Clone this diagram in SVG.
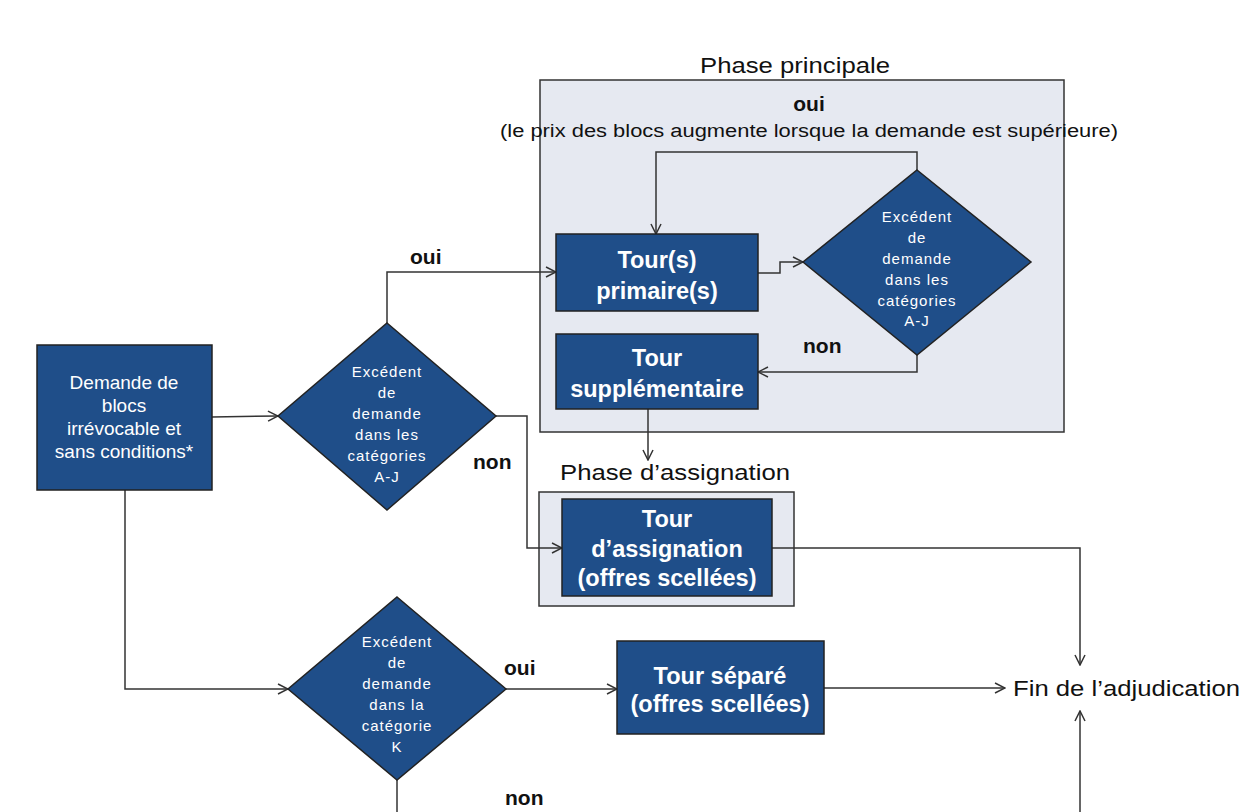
<svg xmlns="http://www.w3.org/2000/svg" width="1244" height="812" viewBox="0 0 1244 812">
<style>
.node{fill:#1f4e89;stroke:#222;stroke-width:1.5}
.phase{fill:#e6e9f1;stroke:#333;stroke-width:1.5}
.c{fill:none;stroke:#333;stroke-width:1.5}
.bt{font-family:"Liberation Sans",Arial,sans-serif;font-weight:bold;font-size:23.5px;fill:#fff;text-anchor:middle}
.dt{font-family:"Liberation Sans",Arial,sans-serif;font-size:15px;fill:#fff;text-anchor:middle;letter-spacing:1px}
.lt{font-family:"Liberation Sans",Arial,sans-serif;font-size:19px;fill:#fff;text-anchor:middle}
.lab{font-family:"Liberation Sans",Arial,sans-serif;font-weight:bold;font-size:21px;fill:#111}
.title{font-family:"Liberation Sans",Arial,sans-serif;font-size:22px;fill:#111;text-anchor:middle}
</style>
<defs>
<marker id="a" viewBox="0 0 12 12" refX="11" refY="6" markerWidth="12" markerHeight="12" markerUnits="userSpaceOnUse" orient="auto">
<path d="M1,1 L11,6 L1,11" fill="none" stroke="#333" stroke-width="1.5"/>
</marker>
</defs>
<rect width="1244" height="812" fill="#fff"/>
<g id="phase-principale">
<rect class="phase" x="540" y="80" width="524" height="352"/>
<text class="title" x="795" y="73" textLength="190" lengthAdjust="spacingAndGlyphs">Phase principale</text>
<text class="lab" x="809" y="111" text-anchor="middle" font-size="22">oui</text>
<text x="809" y="137" text-anchor="middle" textLength="618" lengthAdjust="spacingAndGlyphs" style="font-family:'Liberation Sans',Arial,sans-serif;font-size:18px;fill:#111">(le prix des blocs augmente lorsque la demande est supérieure)</text>
</g>
<g id="phase-assignation">
<rect class="phase" x="539" y="492" width="255" height="114"/>
<text class="title" x="675" y="480" textLength="230" lengthAdjust="spacingAndGlyphs">Phase d’assignation</text>
</g>
<g id="connectors">
<path class="c" d="M212,417 L278,416" marker-end="url(#a)"/>
<path class="c" d="M387,323 L387,272 L556,272" marker-end="url(#a)"/>
<path class="c" d="M496,416 L527,416 L527,548 L562,548" marker-end="url(#a)"/>
<path class="c" d="M758,273 L780,273 L780,262 L803,262" marker-end="url(#a)"/>
<path class="c" d="M917,170 L917,152 L656,152 L656,234" marker-end="url(#a)"/>
<path class="c" d="M917,355 L917,372 L758,372" marker-end="url(#a)"/>
<path class="c" d="M648,409 L648,460" marker-end="url(#a)"/>
<path class="c" d="M772,548 L1080,548 L1080,665" marker-end="url(#a)"/>
<path class="c" d="M125,490 L125,689 L288,689" marker-end="url(#a)"/>
<path class="c" d="M506,689 L617,689" marker-end="url(#a)"/>
<path class="c" d="M824,688 L1005,688" marker-end="url(#a)"/>
<path class="c" d="M397,780 L397,812"/>
<path class="c" d="M1080,812 L1080,711" marker-end="url(#a)"/>
<text class="lab" x="410" y="264">oui</text>
<text class="lab" x="473" y="469">non</text>
<text class="lab" x="803" y="353">non</text>
<text class="lab" x="504" y="675">oui</text>
<text class="lab" x="505" y="805">non</text>
</g>
<g id="demande">
<rect class="node" x="37" y="345" width="175" height="145"/>
<text class="lt" x="124" y="389">Demande  de</text>
<text class="lt" x="124" y="412">blocs</text>
<text class="lt" x="124" y="435">irrévocable et</text>
<text class="lt" x="124" y="458">sans conditions*</text>
</g>
<g id="diamond-aj">
<polygon class="node" points="387,323 496,416 387,510 278,416"/>
<text class="dt" x="387" y="377">Excédent</text>
<text class="dt" x="387" y="398">de</text>
<text class="dt" x="387" y="419">demande</text>
<text class="dt" x="387" y="440">dans les</text>
<text class="dt" x="387" y="461">catégories</text>
<text class="dt" x="387" y="482">A-J</text>
</g>
<g id="tour-primaire">
<rect class="node" x="556" y="234" width="202" height="77"/>
<text class="bt" x="657" y="268">Tour(s)</text>
<text class="bt" x="657" y="299">primaire(s)</text>
</g>
<g id="diamond-aj-2">
<polygon class="node" points="917,170 1031,262 917,355 803,262"/>
<text class="dt" x="917" y="222">Excédent</text>
<text class="dt" x="917" y="243">de</text>
<text class="dt" x="917" y="264">demande</text>
<text class="dt" x="917" y="285">dans les</text>
<text class="dt" x="917" y="306">catégories</text>
<text class="dt" x="917" y="326">A-J</text>
</g>
<g id="tour-supplementaire">
<rect class="node" x="556" y="334" width="202" height="75"/>
<text class="bt" x="657" y="366">Tour</text>
<text class="bt" x="657" y="397">supplémentaire</text>
</g>
<g id="tour-assignation">
<rect class="node" x="562" y="499" width="210" height="97"/>
<text class="bt" x="667" y="527">Tour</text>
<text class="bt" x="667" y="557">d’assignation</text>
<text class="bt" x="667" y="586">(offres scellées)</text>
</g>
<g id="diamond-k">
<polygon class="node" points="397,597 506,689 397,780 288,689"/>
<text class="dt" x="397" y="647">Excédent</text>
<text class="dt" x="397" y="668">de</text>
<text class="dt" x="397" y="689">demande</text>
<text class="dt" x="397" y="710">dans la</text>
<text class="dt" x="397" y="731">catégorie</text>
<text class="dt" x="397" y="752">K</text>
</g>
<g id="tour-separe">
<rect class="node" x="617" y="641" width="207" height="93"/>
<text class="bt" x="720" y="684">Tour séparé</text>
<text class="bt" x="720" y="712">(offres scellées)</text>
</g>
<g id="fin">
<text x="1013" y="696" textLength="227" lengthAdjust="spacingAndGlyphs" style="font-family:'Liberation Sans',Arial,sans-serif;font-size:22px;fill:#111">Fin de l’adjudication</text>
</g>
</svg>
